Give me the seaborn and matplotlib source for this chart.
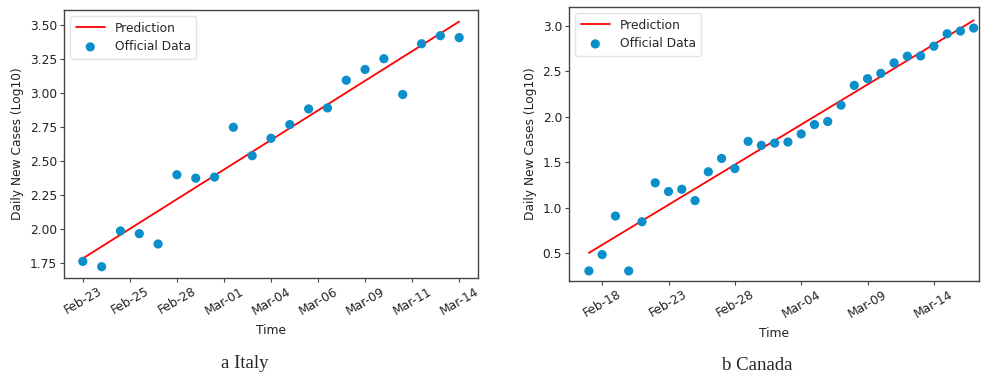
import matplotlib
matplotlib.use("Agg")
import matplotlib.pyplot as plt
import seaborn as sns
import pandas as pd

# ---- Italy ----
italy_day = list(range(21))
italy_cases = [1.762, 1.723, 1.986, 1.966, 1.890, 2.399, 2.374, 2.382, 2.748, 2.539,
               2.667, 2.768, 2.883, 2.890, 3.094, 3.173, 3.252, 2.989, 3.362, 3.421, 3.407]
italy_pred_day = [0, 20]
italy_pred = [1.784, 3.525]
italy_ticks = [0, 2.5, 5, 7.5, 10, 12.5, 15, 17.5, 20]
italy_ticklabels = ["Feb-23", "Feb-25", "Feb-28", "Mar-01", "Mar-04", "Mar-06",
                    "Mar-09", "Mar-11", "Mar-14"]
italy_yticks = [1.75, 2.00, 2.25, 2.50, 2.75, 3.00, 3.25, 3.50]

# ---- Canada ----
canada_day = list(range(30))
canada_cases = [0.301, 0.481, 0.906, 0.301, 0.843, 1.272, 1.176, 1.201, 1.076, 1.394,
                1.541, 1.430, 1.729, 1.685, 1.710, 1.722, 1.811, 1.914, 1.948, 2.128,
                2.346, 2.420, 2.479, 2.594, 2.668, 2.671, 2.778, 2.915, 2.945, 2.978]
canada_pred_day = [0, 29]
canada_pred = [0.50, 3.063]
canada_ticks = [1, 6, 11, 16, 21, 26]
canada_ticklabels = ["Feb-18", "Feb-23", "Feb-28", "Mar-04", "Mar-09", "Mar-14"]
canada_yticks = [0.5, 1.0, 1.5, 2.0, 2.5, 3.0]

sns.set_style("ticks")
plt.rcParams["font.family"] = ["DejaVu Sans"]

BLUE = "#0b8fcb"
FS = 8.8
fig = plt.figure(figsize=(9.81, 3.74), dpi=100)
W, H = 981, 374
ax1 = fig.add_axes([64 / W, 1 - 278 / H, (478 - 64) / W, (278 - 10) / H])
ax2 = fig.add_axes([569 / W, 1 - 281 / H, (979 - 569) / W, (281 - 7) / H])


def draw(ax, day, cases, pday, pred, ticks, labels, yticks, ylim, xlim):
    df = pd.DataFrame({"day": day, "cases": cases})
    dp = pd.DataFrame({"day": pday, "pred": pred})
    sns.lineplot(data=dp, x="day", y="pred", ax=ax, color="red", lw=1.3, label="Prediction")
    sns.scatterplot(data=df, x="day", y="cases", ax=ax, color=BLUE, s=44,
                    edgecolor="none", label="Official Data", zorder=3)
    ax.set_xticks(ticks)
    ax.set_xticklabels(labels, rotation=30, fontsize=FS, color="#222222")
    ax.set_yticks(yticks)
    ax.set_yticklabels([f"{v:.2f}" if len(yticks) > 6 else f"{v:.1f}" for v in yticks],
                       fontsize=FS, color="#222222")
    ax.set_ylim(*ylim)
    ax.set_xlim(*xlim)
    ax.set_xlabel("Time", fontsize=FS, color="#222222", labelpad=5)
    ax.set_ylabel("Daily New Cases (Log10)", fontsize=FS, color="#222222")
    for s in ax.spines.values():
        s.set_visible(True)
        s.set_color("#444444")
        s.set_linewidth(1.0)
    ax.tick_params(length=3, width=0.8, color="#444444", pad=2)
    leg = ax.legend(loc="upper left", fontsize=FS, frameon=True, borderpad=0.45,
                    handlelength=2.4, labelspacing=0.45, handletextpad=0.8)
    leg.get_frame().set_edgecolor("#dddddd")


draw(ax1, italy_day, italy_cases, italy_pred_day, italy_pred, italy_ticks,
     italy_ticklabels, italy_yticks, (1.64, 3.61), (-1.0, 21.0))
draw(ax2, canada_day, canada_cases, canada_pred_day, canada_pred, canada_ticks,
     canada_ticklabels, canada_yticks, (0.19, 3.21), (-1.5, 29.4))

fig.text(245 / W, 1 - 363 / H, "a Italy", ha="center", va="center",
         family="Liberation Serif", fontsize=13.5)
fig.text(757 / W, 1 - 366 / H, "b Canada", ha="center", va="center",
         family="Liberation Serif", fontsize=13.5)

fig.savefig("out.png", dpi=100)
